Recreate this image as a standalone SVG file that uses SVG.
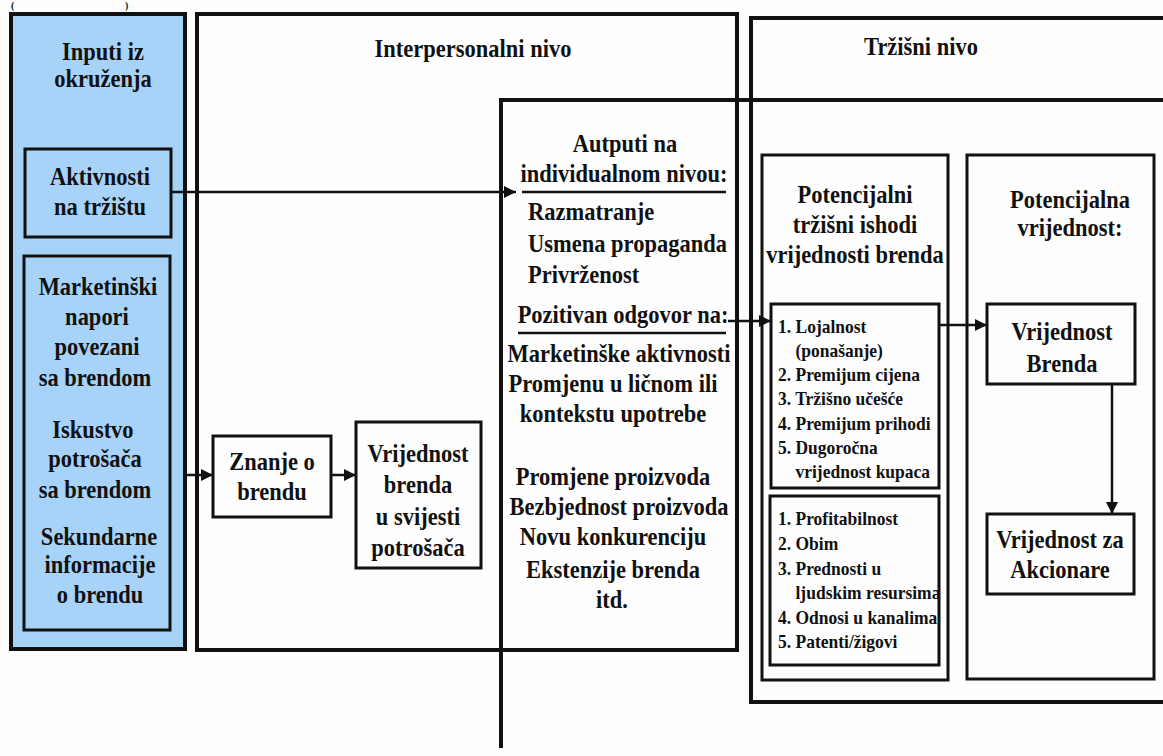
<svg xmlns="http://www.w3.org/2000/svg" width="1163" height="756" viewBox="0 0 1163 756">
<style>
.t{font-family:"Liberation Serif","Times New Roman",serif;font-weight:bold;font-size:22.5px;fill:#111}
.c{text-anchor:middle}
.s{font-size:17.5px}
.box{fill:none;stroke:#111;stroke-width:3}
.big{fill:none;stroke:#111;stroke-width:4}
.blue{fill:#a8d3f8}
.con{fill:none;stroke:#111;stroke-width:2.5}
.ul{stroke:#111;stroke-width:2.5}
</style>
<defs>
<marker id="ah" markerUnits="userSpaceOnUse" markerWidth="12" markerHeight="12" viewBox="0 0 12 12" refX="12" refY="6" orient="auto">
<path d="M0,0 L12,6 L0,12 Z" fill="#111"/>
</marker>
</defs>
<rect width="1163" height="756" fill="#fefefe"/>
<text class="t" x="11" y="9" style="font-size:10px">(</text>
<text class="t" x="125" y="9" style="font-size:10px">)</text>

<g id="inputi">
<rect class="big blue" x="11" y="14" width="174" height="635"/>
<text class="t c" transform="translate(103,60) scale(1,1.15)"><tspan x="0" y="0">Inputi iz</tspan><tspan x="0" y="23.5">okruženja</tspan></text>
</g>
<g id="aktivnosti">
<rect class="box blue" x="25" y="149" width="146" height="88"/>
<text class="t c" transform="translate(100,185) scale(1,1.15)"><tspan x="0" y="0">Aktivnosti</tspan><tspan x="0" y="26.1">na tržištu</tspan></text>
</g>
<g id="marketinski">
<rect class="box blue" x="24" y="256" width="146" height="374"/>
<text class="t c" transform="translate(0,295) scale(1,1.15)"><tspan x="98" y="0">Marketinški</tspan><tspan x="97" y="26.1">napori</tspan><tspan x="97" y="52.2">povezani</tspan><tspan x="95" y="79.1">sa brendom</tspan><tspan x="93" y="124.3">Iskustvo</tspan><tspan x="95" y="149.6">potrošača</tspan><tspan x="95" y="176.5">sa brendom</tspan><tspan x="99" y="217.4">Sekundarne</tspan><tspan x="100" y="241.7">informacije</tspan><tspan x="100" y="267.8">o brendu</tspan></text>
</g>

<g id="interpersonalni">
<rect class="big" x="197" y="14" width="540" height="636"/>
<text class="t c" transform="translate(473,57) scale(1,1.15)">Interpersonalni nivo</text>
</g>
<g id="znanje">
<rect class="box" x="213" y="436" width="118" height="81" fill="#fff"/>
<text class="t c" transform="translate(272,470) scale(1,1.15)"><tspan x="0" y="0">Znanje o</tspan><tspan x="0" y="26.1">brendu</tspan></text>
</g>
<g id="vrijednost-svijest">
<rect class="box" x="356" y="422" width="125" height="146" fill="#fff"/>
<text class="t c" transform="translate(418,462) scale(1,1.15)"><tspan x="0" y="0">Vrijednost</tspan><tspan x="0" y="27">brenda</tspan><tspan x="0" y="54.8">u svijesti</tspan><tspan x="0" y="81.7">potrošača</tspan></text>
</g>

<g id="trzisni">
<rect class="big" x="751" y="18" width="420" height="684"/>
<text class="t c" transform="translate(921,55) scale(1,1.15)">Tržišni nivo</text>
</g>

<g id="autputi">
<path class="big" d="M501,748 V100 H1170"/>
<text class="t c" transform="translate(0,152) scale(1,1.15)"><tspan x="625" y="0">Autputi na</tspan><tspan x="624" y="26.1">individualnom nivou:</tspan></text>
<line class="ul" x1="522" y1="192" x2="726" y2="192"/>
<text class="t" transform="translate(528,220) scale(1,1.15)"><tspan x="0" y="0">Razmatranje</tspan><tspan x="0" y="27.8">Usmena propaganda</tspan><tspan x="0" y="54.8">Privrženost</tspan></text>
<text class="t c" transform="translate(623,323) scale(1,1.15)">Pozitivan odgovor na:</text>
<line class="ul" x1="518" y1="333" x2="726" y2="333"/>
<text class="t c" transform="translate(0,362) scale(1,1.15)"><tspan x="619" y="0">Marketinške aktivnosti</tspan><tspan x="613" y="26.1">Promjenu u ličnom ili</tspan><tspan x="613" y="52.2">kontekstu upotrebe</tspan><tspan x="613" y="106.9">Promjene proizvoda</tspan><tspan x="619" y="133">Bezbjednost proizvoda</tspan><tspan x="613" y="159.1">Novu konkurenciju</tspan><tspan x="613" y="187.8">Ekstenzije brenda</tspan><tspan x="612" y="213.9">itd.</tspan></text>
</g>

<g id="ishodi">
<rect class="box" x="762" y="155" width="186" height="525"/>
<text class="t c" transform="translate(855,203) scale(1,1.15)"><tspan x="0" y="0">Potencijalni</tspan><tspan x="0" y="26.1">tržišni ishodi</tspan><tspan x="0" y="52.2">vrijednosti brenda</tspan></text>
</g>
<g id="lista1">
<rect class="box" x="771" y="304" width="168" height="184"/>
<text class="t s" transform="translate(778,333) scale(1,1.12)"><tspan x="0" y="0">1. Lojalnost</tspan><tspan x="17.5" y="21.4">(ponašanje)</tspan><tspan x="0" y="42.9">2. Premijum cijena</tspan><tspan x="0" y="64.3">3. Tržišno učešće</tspan><tspan x="0" y="86.6">4. Premijum prihodi</tspan><tspan x="0" y="108">5. Dugoročna</tspan><tspan x="17.5" y="129.5">vrijednost kupaca</tspan></text>
</g>
<g id="lista2">
<rect class="box" x="770" y="496" width="169" height="169"/>
<text class="t s" transform="translate(778,525) scale(1,1.12)"><tspan x="0" y="0">1. Profitabilnost</tspan><tspan x="0" y="22.3">2. Obim</tspan><tspan x="0" y="44.6">3. Prednosti u</tspan><tspan x="17.5" y="66.1">ljudskim resursima</tspan><tspan x="0" y="88.4">4. Odnosi u kanalima</tspan><tspan x="0" y="109.8">5. Patenti/žigovi</tspan></text>
</g>

<g id="potencijalna">
<rect class="box" x="967" y="155" width="187" height="524"/>
<text class="t c" transform="translate(1070,208) scale(1,1.15)"><tspan x="0" y="0">Potencijalna</tspan><tspan x="0" y="24.3">vrijednost:</tspan></text>
</g>
<g id="vrijednost-brenda">
<rect class="box" x="987" y="304" width="148" height="80"/>
<text class="t c" transform="translate(1062,340) scale(1,1.15)"><tspan x="0" y="0">Vrijednost</tspan><tspan x="0" y="27.8">Brenda</tspan></text>
</g>
<g id="akcionare">
<rect class="box" x="987" y="514" width="147" height="80"/>
<text class="t c" transform="translate(1060,548) scale(1,1.15)"><tspan x="0" y="0">Vrijednost za</tspan><tspan x="0" y="26.1">Akcionare</tspan></text>
</g>

<g id="connectors">
<line class="con" x1="171" y1="192" x2="516" y2="192" marker-end="url(#ah)"/>
<line class="con" x1="186" y1="475" x2="213" y2="475" marker-end="url(#ah)"/>
<line class="con" x1="331" y1="475" x2="356" y2="475" marker-end="url(#ah)"/>
<line class="con" x1="728" y1="321" x2="771" y2="321" marker-end="url(#ah)"/>
<line class="con" x1="939" y1="325" x2="987" y2="325" marker-end="url(#ah)"/>
<line class="con" x1="1112" y1="384" x2="1112" y2="514" marker-end="url(#ah)"/>
</g>
</svg>
